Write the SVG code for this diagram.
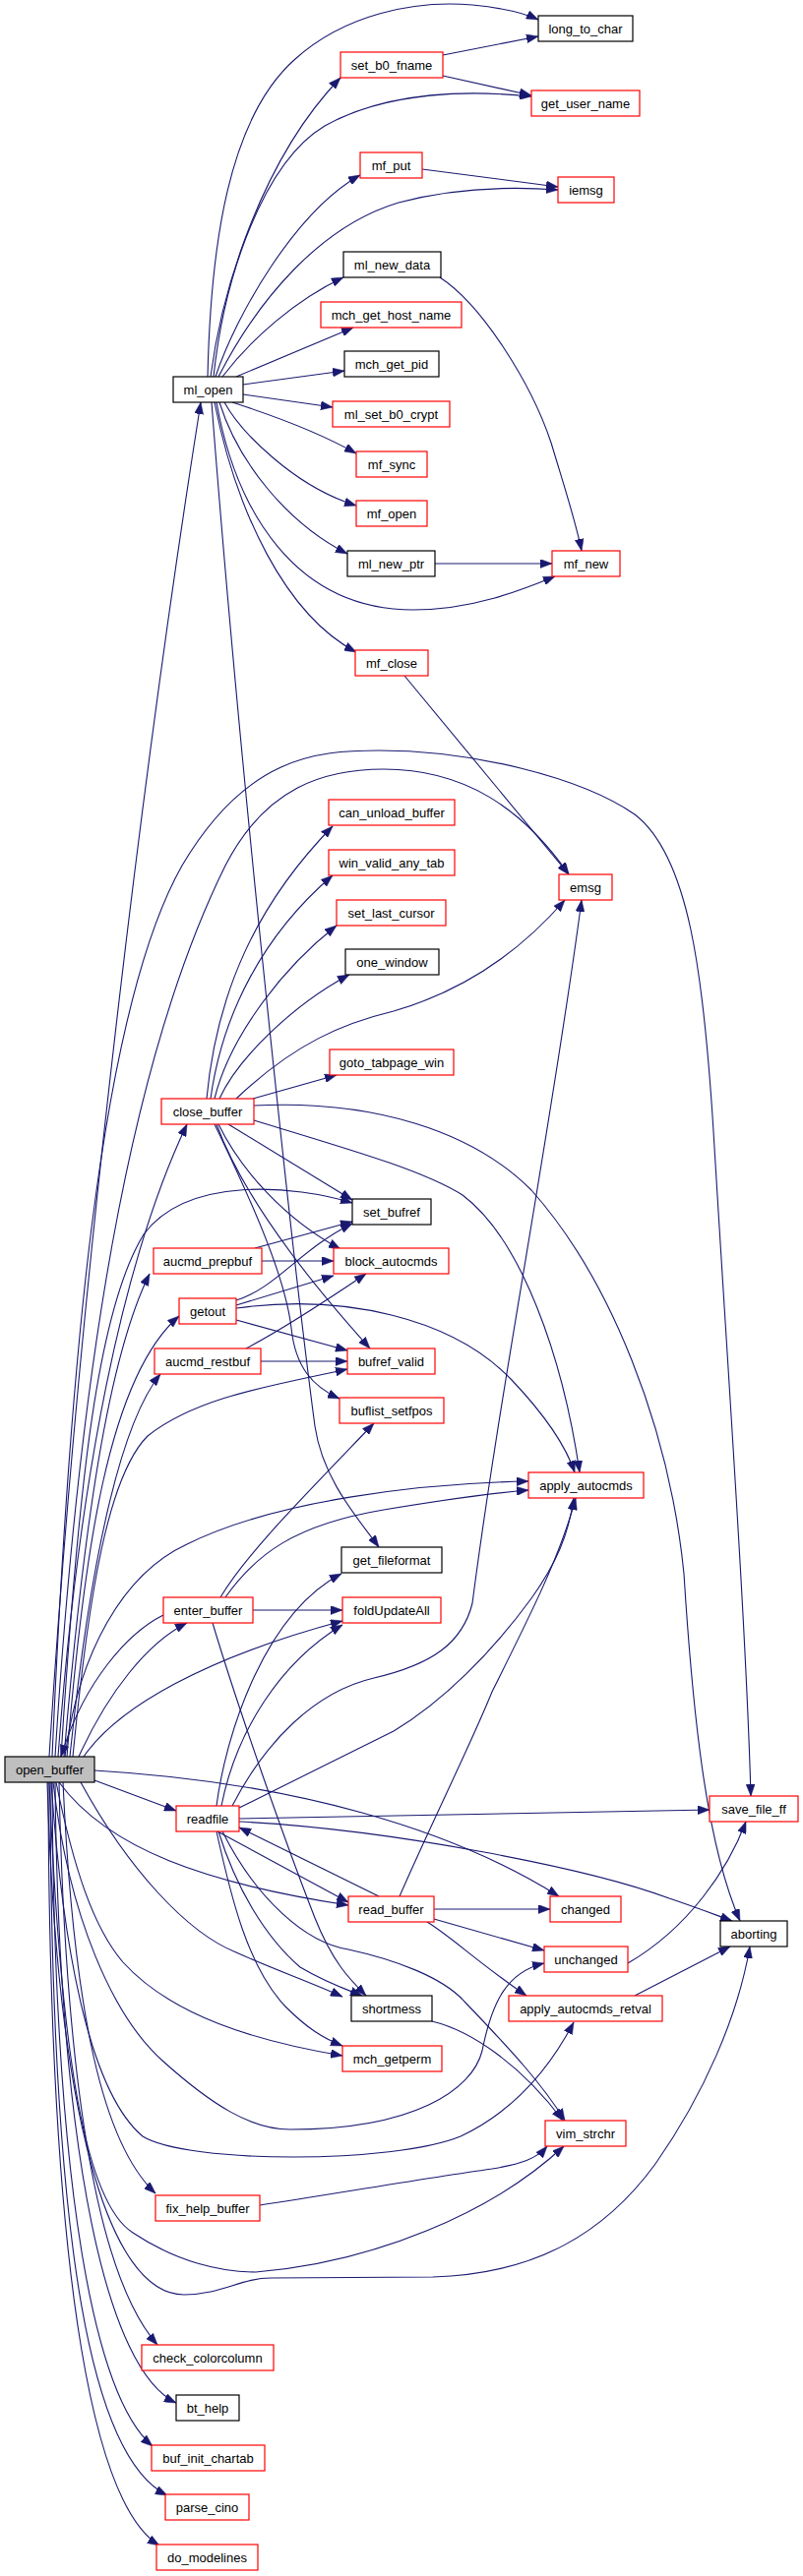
<svg xmlns="http://www.w3.org/2000/svg" width="816" height="2619" viewBox="0 0 816 2619">
<defs>
<style>
.e{fill:none;stroke:#191970;stroke-width:1.1;}
.n rect{fill:#ffffff;stroke-width:1.2;}
.r rect{stroke:#ff0000;}
.b rect{stroke:#000000;}
.g rect{fill:#bfbfbf;stroke:#000000;}
.n text{font-family:"Liberation Sans",Arial,sans-serif;font-size:13px;text-anchor:middle;fill:#000000;}
</style>
<marker id="a" markerWidth="13" markerHeight="9" refX="12" refY="4.5" orient="auto" markerUnits="userSpaceOnUse"><path d="M0,0 L12,4.5 L0,9 z" fill="#191970" stroke="#191970" stroke-width="0.5"/></marker>
</defs>
<rect x="0" y="0" width="816" height="2619" fill="#ffffff"/>
<g id="edges" marker-end="url(#a)">
<path class="e" d="M211,383 C214,250 232,120 300,60 C350,15 420,0 480,5 C510,8 530,12 547,20"/>
<path class="e" d="M214,383 C226,290 268,160 346,79"/>
<path class="e" d="M217,383 C228,280 268,165 330,128 C395,92 480,92 540,98"/>
<path class="e" d="M219,383 C240,320 300,215 366,178"/>
<path class="e" d="M222,383 C262,305 325,230 405,206 C465,190 525,190 567,193"/>
<path class="e" d="M226,383 C255,345 300,305 349,282"/>
<path class="e" d="M240,383 L359,333"/>
<path class="e" d="M247,391 L350,377"/>
<path class="e" d="M247,401 L338,414"/>
<path class="e" d="M236,409 C270,420 325,440 362,461"/>
<path class="e" d="M228,409 C245,440 300,495 362,514"/>
<path class="e" d="M223,409 C242,470 292,532 353,563"/>
<path class="e" d="M220,409 C240,520 300,620 420,620 C480,620 530,600 564,586"/>
<path class="e" d="M218,409 C240,520 290,625 362,663"/>
<path class="e" d="M215,409 C245,800 300,1300 320,1450 C328,1505 365,1545 385,1573"/>
<path class="e" d="M447,282 C490,310 540,390 560,450 C575,500 585,530 591,560"/>
<path class="e" d="M442,573 L561,573"/>
<path class="e" d="M411,687 L578,889"/>
<path class="e" d="M450,56 L547,37"/>
<path class="e" d="M450,77 L540,97"/>
<path class="e" d="M429,172 L567,190"/>
<path class="e" d="M50,1786 C80,1300 150,750 204,409"/>
<path class="e" d="M53,1786 C70,1400 100,1030 185,880 C250,770 320,763 385,763 C480,763 590,790 645,828 C700,870 715,990 725,1150 C740,1400 758,1650 763,1826"/>
<path class="e" d="M56,1786 C80,1400 130,1080 229,880 C270,800 330,782 390,782 C470,782 530,820 578,889"/>
<path class="e" d="M59,1786 C80,1500 125,1280 190,1143"/>
<path class="e" d="M62,1786 C80,1500 100,1330 146,1255 C190,1195 300,1205 358,1223"/>
<path class="e" d="M65,1786 C85,1550 110,1380 152,1295"/>
<path class="e" d="M68,1786 C85,1580 110,1400 182,1338"/>
<path class="e" d="M71,1786 C90,1600 120,1450 163,1397"/>
<path class="e" d="M74,1786 C90,1620 110,1500 150,1460 C200,1420 280,1408 353,1392"/>
<path class="e" d="M66,1786 C80,1680 125,1600 190,1570 C280,1525 430,1508 537,1506"/>
<path class="e" d="M80,1786 C110,1720 150,1670 190,1650"/>
<path class="e" d="M166,1642 C130,1660 85,1710 62,1786"/>
<path class="e" d="M85,1786 C120,1735 210,1685 348,1648"/>
<path class="e" d="M96,1810 L179,1841"/>
<path class="e" d="M96,1800 C300,1812 460,1860 568,1928"/>
<path class="e" d="M60,1812 C110,1880 210,1915 354,1937"/>
<path class="e" d="M82,1812 C130,1900 190,1965 240,1985 C280,2003 315,2015 348,2030"/>
<path class="e" d="M57,1812 C75,1900 95,1960 125,1995 C175,2050 260,2075 348,2090"/>
<path class="e" d="M54,1812 C70,1950 115,2050 165,2095 C215,2140 255,2165 295,2165 C420,2165 480,2125 490,2085 C500,2035 515,2005 553,1996"/>
<path class="e" d="M52,1812 C65,2000 95,2130 145,2172 C190,2200 400,2200 468,2172 C525,2145 560,2100 583,2056"/>
<path class="e" d="M50,1812 C62,2100 88,2240 135,2270 C180,2300 225,2310 260,2310 C380,2300 500,2250 573,2182"/>
<path class="e" d="M264,2242 C330,2232 430,2215 500,2205 C530,2200 545,2195 556,2182"/>
<path class="e" d="M48,1812 C58,2150 110,2333 187,2333 C225,2333 245,2316 275,2316 L440,2315 C545,2312 615,2270 666,2200 C715,2130 750,2050 762,1979"/>
<path class="e" d="M64,1812 C75,2050 105,2180 158,2230"/>
<path class="e" d="M60,1812 C66,2100 95,2310 160,2384"/>
<path class="e" d="M56,1812 C60,2200 110,2410 179,2443"/>
<path class="e" d="M53,1812 C55,2250 100,2440 155,2487"/>
<path class="e" d="M51,1812 C52,2300 95,2500 170,2537"/>
<path class="e" d="M49,1812 C50,2350 100,2550 162,2588"/>
<path class="e" d="M210,1117 C220,1010 260,920 338,840"/>
<path class="e" d="M214,1117 C226,1030 268,950 338,890"/>
<path class="e" d="M218,1117 C232,1060 280,990 342,941"/>
<path class="e" d="M223,1117 C242,1075 300,1020 355,991"/>
<path class="e" d="M240,1117 C300,1060 350,1040 400,1028 C480,1005 535,960 574,915"/>
<path class="e" d="M257,1117 L342,1093"/>
<path class="e" d="M232,1143 L358,1220"/>
<path class="e" d="M222,1143 C245,1190 290,1240 346,1270"/>
<path class="e" d="M220,1143 C250,1225 330,1320 376,1371"/>
<path class="e" d="M218,1143 C260,1230 290,1300 296,1350 C300,1390 318,1410 345,1422"/>
<path class="e" d="M258,1124 C380,1118 480,1150 540,1210 C620,1300 680,1450 695,1600 C705,1760 720,1880 752,1953"/>
<path class="e" d="M258,1139 C360,1170 430,1190 470,1215 C530,1260 572,1380 589,1497"/>
<path class="e" d="M259,1269 L358,1242"/>
<path class="e" d="M266,1282 L339,1282"/>
<path class="e" d="M240,1322 C280,1310 305,1270 358,1244"/>
<path class="e" d="M240,1327 L339,1297"/>
<path class="e" d="M240,1342 L353,1373"/>
<path class="e" d="M240,1330 C350,1315 460,1340 520,1403 C555,1440 575,1470 584,1497"/>
<path class="e" d="M265,1384 L353,1384"/>
<path class="e" d="M250,1371 C290,1350 335,1320 372,1295"/>
<path class="e" d="M224,1624 C250,1580 310,1520 380,1447"/>
<path class="e" d="M229,1624 C260,1580 300,1550 390,1535 C450,1525 500,1518 537,1515"/>
<path class="e" d="M257,1637 L348,1637"/>
<path class="e" d="M216,1650 C240,1730 285,1860 320,1950 C338,1995 355,2012 372,2029"/>
<path class="e" d="M220,1836 C230,1760 270,1640 347,1600"/>
<path class="e" d="M225,1836 C240,1760 285,1690 348,1652"/>
<path class="e" d="M236,1836 C270,1770 320,1720 380,1706 C440,1692 470,1670 480,1630 C510,1400 560,1150 591,915"/>
<path class="e" d="M243,1838 L400,1760 C450,1730 500,1680 540,1625 C565,1590 578,1560 583,1523"/>
<path class="e" d="M243,1849 L721,1840"/>
<path class="e" d="M243,1852 C400,1860 600,1900 680,1930 C710,1940 730,1948 744,1953"/>
<path class="e" d="M221,1862 L354,1934"/>
<path class="e" d="M220,1862 C235,1930 252,2000 290,2040 C312,2062 328,2072 348,2080"/>
<path class="e" d="M222,1862 C240,1920 270,1970 305,2000 C330,2015 350,2022 368,2029"/>
<path class="e" d="M226,1862 C260,1930 310,1975 354,1982 C400,1992 450,2010 472,2035 C520,2085 552,2120 574,2156"/>
<path class="e" d="M385,1928 L243,1858"/>
<path class="e" d="M441,1941 L559,1941"/>
<path class="e" d="M441,1951 L553,1983"/>
<path class="e" d="M434,1954 C460,1970 485,1995 535,2029"/>
<path class="e" d="M406,1928 C440,1850 480,1770 500,1720 C540,1640 570,1580 585,1523"/>
<path class="e" d="M439,2055 C480,2065 530,2100 572,2156"/>
<path class="e" d="M638,1996 C700,1960 740,1900 758,1852"/>
<path class="e" d="M645,2029 L742,1979"/>
</g>
<g id="node-long_to_char" class="n b"><rect x="547" y="16" width="96" height="26"/><text x="595" y="33.5">long_to_char</text></g>
<g id="node-set_b0_fname" class="n r"><rect x="346" y="53" width="104" height="26"/><text x="398" y="70.5">set_b0_fname</text></g>
<g id="node-get_user_name" class="n r"><rect x="540" y="92" width="110" height="26"/><text x="595" y="109.5">get_user_name</text></g>
<g id="node-mf_put" class="n r"><rect x="366" y="155" width="63" height="26"/><text x="397.5" y="172.5">mf_put</text></g>
<g id="node-iemsg" class="n r"><rect x="567" y="180" width="57" height="26"/><text x="595.5" y="197.5">iemsg</text></g>
<g id="node-ml_new_data" class="n b"><rect x="349" y="256" width="99" height="26"/><text x="398.5" y="273.5">ml_new_data</text></g>
<g id="node-mch_get_host_name" class="n r"><rect x="326" y="307" width="143" height="26"/><text x="397.5" y="324.5">mch_get_host_name</text></g>
<g id="node-mch_get_pid" class="n b"><rect x="350" y="357" width="96" height="26"/><text x="398" y="374.5">mch_get_pid</text></g>
<g id="node-ml_open" class="n b"><rect x="176" y="383" width="71" height="26"/><text x="211.5" y="400.5">ml_open</text></g>
<g id="node-ml_set_b0_crypt" class="n r"><rect x="338" y="408" width="119" height="26"/><text x="397.5" y="425.5">ml_set_b0_crypt</text></g>
<g id="node-mf_sync" class="n r"><rect x="362" y="459" width="72" height="26"/><text x="398" y="476.5">mf_sync</text></g>
<g id="node-mf_open" class="n r"><rect x="362" y="509" width="72" height="26"/><text x="398" y="526.5">mf_open</text></g>
<g id="node-ml_new_ptr" class="n b"><rect x="353" y="560" width="89" height="26"/><text x="397.5" y="577.5">ml_new_ptr</text></g>
<g id="node-mf_new" class="n r"><rect x="561" y="560" width="69" height="26"/><text x="595.5" y="577.5">mf_new</text></g>
<g id="node-mf_close" class="n r"><rect x="361" y="661" width="74" height="26"/><text x="398" y="678.5">mf_close</text></g>
<g id="node-can_unload_buffer" class="n r"><rect x="334" y="813" width="128" height="26"/><text x="398" y="830.5">can_unload_buffer</text></g>
<g id="node-win_valid_any_tab" class="n r"><rect x="334" y="864" width="128" height="26"/><text x="398" y="881.5">win_valid_any_tab</text></g>
<g id="node-emsg" class="n r"><rect x="568" y="889" width="54" height="26"/><text x="595" y="906.5">emsg</text></g>
<g id="node-set_last_cursor" class="n r"><rect x="342" y="915" width="111" height="26"/><text x="397.5" y="932.5">set_last_cursor</text></g>
<g id="node-one_window" class="n b"><rect x="351" y="965" width="95" height="26"/><text x="398.5" y="982.5">one_window</text></g>
<g id="node-goto_tabpage_win" class="n r"><rect x="335" y="1067" width="126" height="26"/><text x="398" y="1084.5">goto_tabpage_win</text></g>
<g id="node-close_buffer" class="n r"><rect x="164" y="1117" width="94" height="26"/><text x="211" y="1134.5">close_buffer</text></g>
<g id="node-set_bufref" class="n b"><rect x="358" y="1219" width="80" height="26"/><text x="398" y="1236.5">set_bufref</text></g>
<g id="node-aucmd_prepbuf" class="n r"><rect x="156" y="1269" width="110" height="26"/><text x="211" y="1286.5">aucmd_prepbuf</text></g>
<g id="node-block_autocmds" class="n r"><rect x="339" y="1269" width="117" height="26"/><text x="397.5" y="1286.5">block_autocmds</text></g>
<g id="node-getout" class="n r"><rect x="182" y="1320" width="58" height="26"/><text x="211" y="1337.5">getout</text></g>
<g id="node-aucmd_restbuf" class="n r"><rect x="157" y="1371" width="108" height="26"/><text x="211" y="1388.5">aucmd_restbuf</text></g>
<g id="node-bufref_valid" class="n r"><rect x="353" y="1371" width="89" height="26"/><text x="397.5" y="1388.5">bufref_valid</text></g>
<g id="node-buflist_setfpos" class="n r"><rect x="345" y="1421" width="106" height="26"/><text x="398" y="1438.5">buflist_setfpos</text></g>
<g id="node-apply_autocmds" class="n r"><rect x="537" y="1497" width="117" height="26"/><text x="595.5" y="1514.5">apply_autocmds</text></g>
<g id="node-get_fileformat" class="n b"><rect x="347" y="1573" width="102" height="26"/><text x="398" y="1590.5">get_fileformat</text></g>
<g id="node-enter_buffer" class="n r"><rect x="166" y="1624" width="91" height="26"/><text x="211.5" y="1641.5">enter_buffer</text></g>
<g id="node-foldUpdateAll" class="n r"><rect x="348" y="1624" width="100" height="26"/><text x="398" y="1641.5">foldUpdateAll</text></g>
<g id="node-open_buffer" class="n g"><rect x="5" y="1786" width="91" height="26"/><text x="50.5" y="1803.5">open_buffer</text></g>
<g id="node-save_file_ff" class="n r"><rect x="721" y="1826" width="90" height="26"/><text x="766" y="1843.5">save_file_ff</text></g>
<g id="node-readfile" class="n r"><rect x="179" y="1836" width="64" height="26"/><text x="211" y="1853.5">readfile</text></g>
<g id="node-read_buffer" class="n r"><rect x="354" y="1928" width="87" height="26"/><text x="397.5" y="1945.5">read_buffer</text></g>
<g id="node-changed" class="n r"><rect x="559" y="1928" width="72" height="26"/><text x="595" y="1945.5">changed</text></g>
<g id="node-aborting" class="n b"><rect x="732" y="1953" width="68" height="26"/><text x="766" y="1970.5">aborting</text></g>
<g id="node-unchanged" class="n r"><rect x="553" y="1979" width="85" height="26"/><text x="595.5" y="1996.5">unchanged</text></g>
<g id="node-shortmess" class="n b"><rect x="357" y="2029" width="82" height="26"/><text x="398" y="2046.5">shortmess</text></g>
<g id="node-apply_autocmds_retval" class="n r"><rect x="517" y="2029" width="156" height="26"/><text x="595" y="2046.5">apply_autocmds_retval</text></g>
<g id="node-mch_getperm" class="n r"><rect x="348" y="2080" width="101" height="26"/><text x="398.5" y="2097.5">mch_getperm</text></g>
<g id="node-vim_strchr" class="n r"><rect x="554" y="2156" width="82" height="26"/><text x="595" y="2173.5">vim_strchr</text></g>
<g id="node-fix_help_buffer" class="n r"><rect x="158" y="2232" width="106" height="26"/><text x="211" y="2249.5">fix_help_buffer</text></g>
<g id="node-check_colorcolumn" class="n r"><rect x="144" y="2384" width="134" height="26"/><text x="211" y="2401.5">check_colorcolumn</text></g>
<g id="node-bt_help" class="n b"><rect x="179" y="2435" width="64" height="26"/><text x="211" y="2452.5">bt_help</text></g>
<g id="node-buf_init_chartab" class="n r"><rect x="154" y="2486" width="115" height="26"/><text x="211.5" y="2503.5">buf_init_chartab</text></g>
<g id="node-parse_cino" class="n r"><rect x="168" y="2536" width="85" height="26"/><text x="210.5" y="2553.5">parse_cino</text></g>
<g id="node-do_modelines" class="n r"><rect x="159" y="2587" width="103" height="26"/><text x="210.5" y="2604.5">do_modelines</text></g>
</svg>
